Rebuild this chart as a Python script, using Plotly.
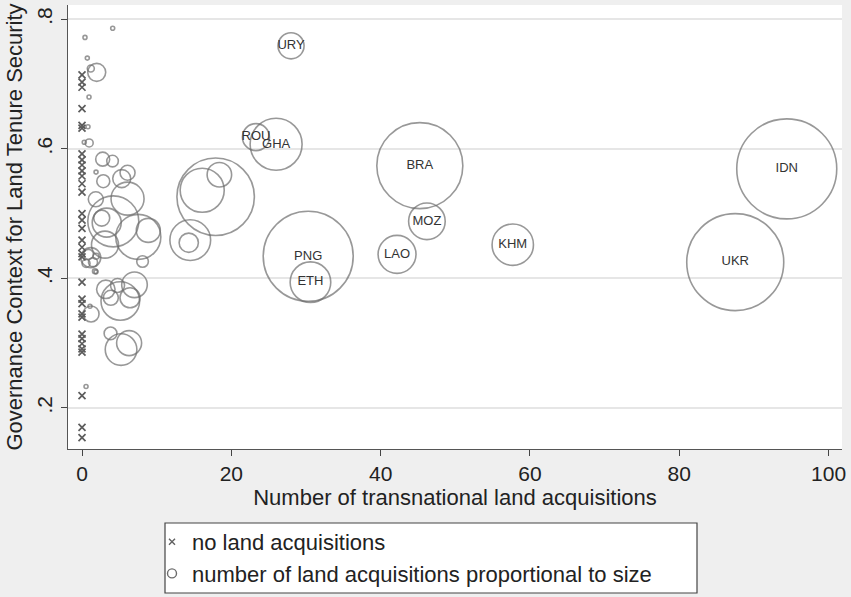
import plotly.graph_objects as go

# ---- countries with no land acquisitions (x = 0) ----
none_x = [0, 0, 0, 0, 0, 0, 0, 0, 0, 0, 0, 0, 0, 0, 0, 0, 0, 0, 0, 0, 0, 0, 0,
          0, 0, 0, 0, 0, 0, 0, 0, 0, 0]
none_y = [0.714, 0.703, 0.695, 0.662, 0.636, 0.632, 0.592, 0.583, 0.575, 0.566,
          0.558, 0.546, 0.533, 0.500, 0.490, 0.477, 0.459, 0.448, 0.438, 0.433,
          0.394, 0.368, 0.361, 0.345, 0.340, 0.314, 0.307, 0.299, 0.291, 0.286,
          0.219, 0.170, 0.154]

# ---- countries with land acquisitions (bubble weight = size) ----
acq_labels = ["URY", "ROU", "GHA", "PNG", "ETH", "BRA", "MOZ", "LAO", "KHM", "IDN", "UKR",
              "", "", "", "", "",
              "", "", "", "", "", "", "", "", "", "", "", "", "", "", "", "", "",
              "", "", "", "", "", "", "",
              "", "", "", "", "", "", "", "", "", "",
              "", "", "", "", "", "", "", "", ""]
acq_x = [28.0, 23.3, 26.0, 30.3, 30.6, 45.25, 46.2, 42.2, 57.7, 94.4, 87.5,
         17.9, 16.1, 18.4, 14.5, 14.3,
         1.97, 1.18, 0.96, 2.77, 4.09, 6.10, 5.32, 2.85, 6.10, 1.85, 4.19, 3.31, 2.64, 7.54, 8.88, 3.08, 1.17,
         0.87, 1.47, 0.54, 1.88, 8.11, 1.74, 3.19,
         4.76, 7.03, 5.13, 6.43, 3.86, 1.21, 3.82, 6.31, 5.23, 4.11,
         0.40, 0.71, 0.94, 0.80, 1.88, 0.54, 1.07, 1.88, 0.30]
acq_y = [0.759, 0.618, 0.607, 0.434, 0.394, 0.574, 0.488, 0.437, 0.452, 0.569, 0.425,
         0.526, 0.536, 0.560, 0.459, 0.455,
         0.718, 0.724, 0.609, 0.584, 0.581, 0.563, 0.554, 0.550, 0.523, 0.522, 0.488, 0.486, 0.493, 0.464, 0.474, 0.452, 0.432,
         0.437, 0.425, 0.423, 0.434, 0.426, 0.411, 0.383,
         0.389, 0.390, 0.365, 0.370, 0.370, 0.345, 0.315, 0.300, 0.290, 0.786,
         0.772, 0.740, 0.680, 0.634, 0.564, 0.233, 0.357, 0.410, 0.610]
acq_size = [6.8, 7.3, 27.0, 81.0, 16.5, 74.0, 13.4, 14.4, 17.1, 100.0, 94.1,
            60.0, 19.4, 6.0, 16.6, 3.7,
            3.24, 0.49, 0.64, 1.96, 1.35, 2.25, 3.24, 1.69, 10.9, 2.25, 26.0, 8.4, 2.56, 20.3, 5.76, 7.3, 4.0,
            1.0, 0.81, 0.64, 0.36, 1.35, 0.25, 3.4,
            1.96, 6.55, 14.9, 4.0, 2.25, 2.56, 1.64, 6.25, 10.0, 0.16,
            0.16, 0.16, 0.16, 0.16, 0.16, 0.16, 0.16, 0.16, 0.16]

x_ticks = [0, 20, 40, 60, 80, 100]
y_ticks = [0.2, 0.4, 0.6, 0.8]
y_ticktext = [".2", ".4", ".6", ".8"]

FONT = "Liberation Sans, Arial, sans-serif"
GRAY = "#6c6c6c"
BG = "#efefef"

fig = go.Figure()

fig.add_trace(go.Scatter(
    x=acq_x, y=acq_y, mode="markers+text", text=acq_labels,
    textposition="middle center",
    textfont=dict(family=FONT, size=13, color="#333333"),
    marker=dict(symbol="circle-open", size=acq_size, sizemode="area",
                sizeref=0.02, color=GRAY, line=dict(width=1.6, color=GRAY)),
    showlegend=False, hoverinfo="skip"))

fig.add_trace(go.Scatter(
    x=none_x, y=none_y, mode="markers",
    marker=dict(symbol="x-thin-open", size=7, color="#5c5c5c",
                line=dict(width=1.7, color="#5c5c5c")),
    showlegend=False, hoverinfo="skip"))

# legend entries
fig.add_trace(go.Scatter(
    x=[None], y=[None], mode="markers", name="no land acquisitions",
    marker=dict(symbol="x-thin-open", size=6, color="#606060",
                line=dict(width=1.4, color="#606060"))))
fig.add_trace(go.Scatter(
    x=[None], y=[None], mode="markers",
    name="number of land acquisitions proportional to size",
    marker=dict(symbol="circle-open", size=9, color=GRAY,
                line=dict(width=1.4, color=GRAY))))

fig.update_layout(
    width=851, height=597,
    margin=dict(l=68, r=9, t=5, b=148, autoexpand=False),
    paper_bgcolor=BG, plot_bgcolor="white",
    font=dict(family=FONT, color="#222222", size=21),
    showlegend=True,
    legend=dict(x=(152 - 68) / 774, y=(449 - 521) / 444, xanchor="left", yanchor="top",
                bgcolor="rgba(0,0,0,0)", borderwidth=0,
                font=dict(family=FONT, size=22, color="#222222"),
                tracegroupgap=0),
    shapes=[dict(type="rect", xref="paper", yref="paper",
                 x0=(165 - 68) / 774, x1=(697 - 68) / 774,
                 y0=(449 - 523) / 444, y1=(449 - 593) / 444,
                 line=dict(color="#444444", width=1.2), fillcolor="white",
                 layer="above")],
)

fig.update_xaxes(
    range=[-1.876, 101.8], tickvals=x_ticks, ticks="outside", ticklen=6,
    tickcolor="#444444", tickwidth=1.2, showline=True, linecolor="#555555",
    linewidth=1.3, showgrid=False, zeroline=False, automargin=False,
    tickfont=dict(family=FONT, size=21, color="#222222"),
    title=dict(text="Number of transnational land acquisitions",
               font=dict(family=FONT, size=22, color="#222222"), standoff=0))

fig.update_yaxes(
    range=[0.1365, 0.822], tickvals=y_ticks, ticktext=y_ticktext, tickangle=-90,
    ticks="outside", ticklen=6, tickcolor="#444444", tickwidth=1.2,
    showline=True, linecolor="#555555", linewidth=1.3, automargin=False,
    showgrid=True, gridcolor="#e6e6e6", gridwidth=1.5, zeroline=False,
    tickfont=dict(family=FONT, size=21, color="#222222"),
    title=dict(text="Governance Context for Land Tenure Security",
               font=dict(family=FONT, size=22, color="#222222"), standoff=4))

fig.write_html(
    "out.html",
    config={"displayModeBar": False},
    post_script="document.body.style.margin='0';document.body.style.background='%s';" % BG)
